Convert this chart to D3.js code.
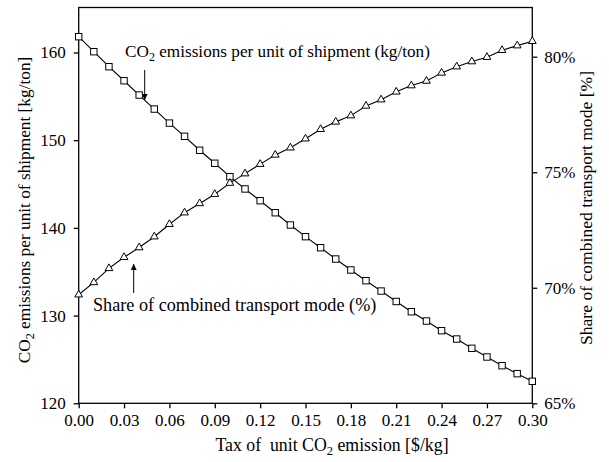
<!DOCTYPE html>
<html><head><meta charset="utf-8">
<script src="https://cdn.jsdelivr.net/npm/d3@7"></script>
<style>body{margin:0;background:#fff}svg{display:block}text{font-family:"Liberation Serif","DejaVu Serif",serif;fill:#000;white-space:pre}</style>
</head><body><svg id="c" width="609" height="462"></svg>
<script>
const taxRates = d3.range(31).map(i => +(i * 0.01).toFixed(2));
const co2Emissions = [161.8,160.09,158.38,156.78,155.15,153.55,151.95,150.44,148.85,147.37,145.84,144.44,143.1,141.73,140.33,139.0,137.74,136.45,135.2,133.98,132.8,131.61,130.44,129.38,128.28,127.33,126.27,125.28,124.29,123.38,122.51];
const combinedShare = [69.70,70.23,70.84,71.32,71.74,72.21,72.75,73.25,73.65,74.05,74.53,74.94,75.35,75.75,76.06,76.45,76.86,77.18,77.45,77.87,78.14,78.48,78.75,78.95,79.30,79.57,79.79,79.98,80.28,80.48,80.67];
const xTicks = [0,0.03,0.06,0.09,0.12,0.15,0.18,0.21,0.24,0.27,0.30];
const leftTicks = [120,130,140,150,160];
const rightTicks = [65,70,75,80];

const svg = d3.select("#c");
const L = 78.7, R = 532.3, T = 7.5, B = 403.3;
const x = d3.scaleLinear().domain([0, 0.30]).range([L, R]);
const yL = d3.scaleLinear().domain([120, 165.13]).range([B, T]);
const yR = d3.scaleLinear().domain([65, 82.13]).range([B, T]);
const fs = 17;

svg.append("rect").attr("x", L).attr("y", T).attr("width", R - L).attr("height", B - T)
  .attr("fill", "none").attr("stroke", "#000").attr("stroke-width", 1.3);

function styleAxis(g){
  g.select(".domain").remove();
  g.selectAll(".tick line").attr("stroke", "#000").attr("stroke-width", 1.3);
  g.selectAll(".tick text").style("font-family", '"Liberation Serif",serif').style("font-size", fs + "px").attr("fill", "#000");
}
svg.append("g").attr("transform", `translate(0,${B})`)
  .call(d3.axisBottom(x).tickValues(xTicks).tickFormat(d3.format(".2f")).tickSize(5).tickPadding(6))
  .call(styleAxis);
svg.append("g").attr("transform", `translate(${L},0)`)
  .call(d3.axisLeft(yL).tickValues(leftTicks).tickSize(5).tickPadding(8))
  .call(styleAxis);
svg.append("g").attr("transform", `translate(${R},0)`)
  .call(d3.axisRight(yR).tickValues(rightTicks).tickFormat(d => d + "%").tickSize(5).tickPadding(7))
  .call(styleAxis);

const lineL = d3.line().x((d, i) => x(taxRates[i])).y(d => yL(d));
const lineR = d3.line().x((d, i) => x(taxRates[i])).y(d => yR(d));
svg.append("path").datum(co2Emissions).attr("d", lineL).attr("fill", "none").attr("stroke", "#000").attr("stroke-width", 1.1);
svg.append("path").datum(combinedShare).attr("d", lineR).attr("fill", "none").attr("stroke", "#000").attr("stroke-width", 1.1);

svg.append("g").selectAll("rect").data(co2Emissions).join("rect")
  .attr("x", (d, i) => x(taxRates[i]) - 3.2).attr("y", d => yL(d) - 3.2)
  .attr("width", 6.4).attr("height", 6.4).attr("fill", "#fff").attr("stroke", "#000").attr("stroke-width", 1);
const tri = d3.symbol().type(d3.symbolTriangle).size(26);
svg.append("g").selectAll("path").data(combinedShare).join("path")
  .attr("d", tri).attr("transform", (d, i) => `translate(${x(taxRates[i])},${yR(d)})`)
  .attr("fill", "#fff").attr("stroke", "#000").attr("stroke-width", 1);

function sub(t, parts, size){
  parts.forEach(p => {
    const s = t.append("tspan").text(p[0]);
    if (p[1]) s.attr("font-size", size * 0.7).attr("dy", size * 0.25);
    else if (p[2]) s.attr("dy", -size * 0.25);
  });
}
const a1 = svg.append("text").attr("x", 125).attr("y", 57).attr("font-size", 17.2);
sub(a1, [["CO"], ["2", true], [" emissions per unit of shipment (kg/ton)", false, true]], 17.2);
svg.append("text").attr("x", 93).attr("y", 311).attr("font-size", 18.2).text("Share of combined transport mode (%)");

const defs = svg.append("defs");
defs.append("marker").attr("id", "ah").attr("viewBox", "0 0 10 10").attr("refX", 10).attr("refY", 5)
  .attr("markerWidth", 6).attr("markerHeight", 6).attr("markerUnits", "userSpaceOnUse").attr("orient", "auto")
  .append("path").attr("d", "M0,0 L10,5 L0,10 Z").attr("fill", "#000");
svg.append("line").attr("x1", 144.7).attr("y1", 70).attr("x2", 144.7).attr("y2", 100)
  .attr("stroke", "#000").attr("stroke-width", 1).attr("marker-end", "url(#ah)");
svg.append("line").attr("x1", 133.7).attr("y1", 293).attr("x2", 133.7).attr("y2", 264)
  .attr("stroke", "#000").attr("stroke-width", 1).attr("marker-end", "url(#ah)");

const xt = svg.append("text").attr("x", 332).attr("y", 451).attr("text-anchor", "middle").attr("font-size", 17.8);
sub(xt, [["Tax of  unit CO"], ["2", true], [" emission [$/kg]", false, true]], 17.8);
const ylt = svg.append("text").attr("transform", "translate(30,210) rotate(-90)").attr("text-anchor", "middle").attr("font-size", 17.3);
sub(ylt, [["CO"], ["2", true], [" emissions per unit of shipment [kg/ton]", false, true]], 17.3);
svg.append("text").attr("transform", "translate(592,208) rotate(-90)").attr("text-anchor", "middle").attr("font-size", 17.6)
  .text("Share of combined transport mode [%]");
</script></body></html>
